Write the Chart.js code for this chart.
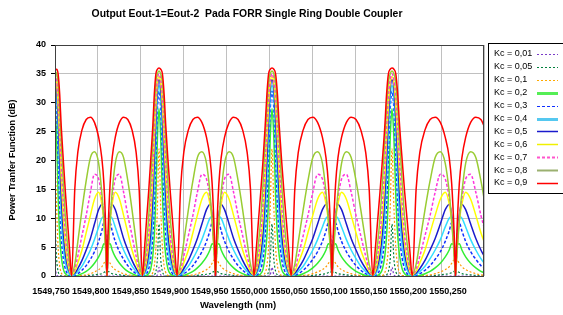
<!DOCTYPE html>
<html lang="en">
<head>
<meta charset="UTF-8">
<title>Output Eout-1=Eout-2 Pada FORR Single Ring Double Coupler</title>
<script src="https://cdn.jsdelivr.net/npm/chart.js"></script>
<style>
  body { margin: 0; background: #fff; }
  #wrap { width: 563px; height: 315px; }
</style>
</head>
<body>
<div id="wrap"><canvas id="chart" width="563" height="315"></canvas></div>
<script>
// wavelength (nm) of every sample
const wavelength = [
  1549.7550, 1549.7570, 1549.7589, 1549.7609, 1549.7628, 1549.7655, 1549.7681, 1549.7707, 1549.7734, 1549.7759, 1549.7799, 1549.7838, 1549.7890, 1549.7943, 1549.7996, 1549.8047, 1549.8100, 1549.8139, 1549.8166, 1549.8192, 1549.8205, 1549.8217, 1549.8244, 1549.8270, 1549.8309, 1549.8362, 1549.8414, 1549.8467, 1549.8520, 1549.8571, 1549.8610, 1549.8651, 1549.8676, 1549.8702, 1549.8729, 1549.8755, 1549.8782, 1549.8801, 1549.8821, 1549.8840,
  1549.8860, 1549.8881, 1549.8903, 1549.8924, 1549.8945, 1549.8973, 1549.9002, 1549.9031, 1549.9059, 1549.9088, 1549.9131, 1549.9173, 1549.9230, 1549.9287, 1549.9343, 1549.9400, 1549.9458, 1549.9501, 1549.9529, 1549.9557, 1549.9571, 1549.9585, 1549.9614, 1549.9643, 1549.9685, 1549.9743, 1549.9799, 1549.9856, 1549.9913, 1549.9969, 1550.0012, 1550.0055, 1550.0084, 1550.0112, 1550.0141, 1550.0170, 1550.0197, 1550.0219, 1550.0240, 1550.0261,
  1550.0283, 1550.0306, 1550.0328, 1550.0351, 1550.0374, 1550.0404, 1550.0434, 1550.0464, 1550.0494, 1550.0525, 1550.0570, 1550.0615, 1550.0676, 1550.0736, 1550.0797, 1550.0857, 1550.0918, 1550.0963, 1550.0993, 1550.1023, 1550.1039, 1550.1054, 1550.1084, 1550.1114, 1550.1159, 1550.1220, 1550.1280, 1550.1341, 1550.1401, 1550.1462, 1550.1507, 1550.1552, 1550.1583, 1550.1613, 1550.1643, 1550.1673, 1550.1704, 1550.1726, 1550.1749, 1550.1772,
  1550.1794, 1550.1818, 1550.1842, 1550.1866, 1550.1890, 1550.1923, 1550.1954, 1550.1986, 1550.2018, 1550.2050, 1550.2098, 1550.2146, 1550.2210, 1550.2274, 1550.2338, 1550.2403, 1550.2465, 1550.2515, 1550.2546, 1550.2578, 1550.2594, 1550.2610, 1550.2642, 1550.2675, 1550.2722, 1550.2785, 1550.2850, 1550.2914, 1550.2953
];

const xTicks = [1549.75, 1549.80, 1549.85, 1549.90, 1549.95, 1550.00, 1550.05, 1550.10, 1550.15, 1550.20, 1550.25];
const yTicks = [0, 5, 10, 15, 20, 25, 30, 35, 40];

const seriesLabels = ['Kc = 0,01', 'Kc = 0,05', 'Kc = 0,1', 'Kc = 0,2', 'Kc = 0,3', 'Kc = 0,4',
                      'Kc = 0,5', 'Kc = 0,6', 'Kc = 0,7', 'Kc = 0,8', 'Kc = 0,9'];

// power transfer (dB), one value per wavelength sample
const kc001 = [
  1.5,0.2,0,0,0,0,0,0,0,0,0,0,0,0,0,0,0,0,0,0,0,0,0,0,0,0,0,0,0,0,0,0,0,0,0,0,0,0,0,0.2,
  1.5,0.2,0,0,0,0,0,0,0,0,0,0,0,0,0,0,0,0,0,0,0,0,0,0,0,0,0,0,0,0,0,0,0,0,0,0,0,0,0,0.2,
  1.5,0.2,0,0,0,0,0,0,0,0,0,0,0,0,0,0,0,0,0,0,0,0,0,0,0,0,0,0,0,0,0,0,0,0,0,0,0,0,0,0.2,
  1.5,0.2,0,0,0,0,0,0,0,0,0,0,0,0,0,0,0,0,0,0,0,0,0,0,0,0,0,0,0
];
const kc005 = [
  9,3,0.8,0.2,0,0,0,0,0,0,0,0,0,0,0.1,0.2,0.3,0.4,0.6,0.8,0,0.8,0.6,0.4,0.3,0.2,0.1,0,0,0,0,0,0,0,0,0,0,0.2,0.8,3,
  9,3,0.8,0.2,0,0,0,0,0,0,0,0,0,0,0.1,0.2,0.3,0.4,0.6,0.8,0,0.8,0.6,0.4,0.3,0.2,0.1,0,0,0,0,0,0,0,0,0,0,0.2,0.8,3,
  9,3,0.8,0.2,0,0,0,0,0,0,0,0,0,0,0.1,0.2,0.3,0.4,0.6,0.8,0,0.8,0.6,0.4,0.3,0.2,0.1,0,0,0,0,0,0,0,0,0,0,0.2,0.8,3,
  9,3,0.8,0.2,0,0,0,0,0,0,0,0,0,0,0.1,0.2,0.3,0.4,0.6,0.8,0,0.8,0.6,0.4,0.3,0.2,0.1,0,0
];
const kc01 = [
  22,12,5,1.8,0.6,0.1,0,0,0,0,0,0,0.1,0.2,0.4,0.7,1.1,1.6,2.2,2.8,0,2.8,2.2,1.6,1.1,0.7,0.4,0.2,0.1,0,0,0,0,0,0,0.1,0.6,1.8,5,12,
  22,12,5,1.8,0.6,0.1,0,0,0,0,0,0,0.1,0.2,0.4,0.7,1.1,1.6,2.2,2.8,0,2.8,2.2,1.6,1.1,0.7,0.4,0.2,0.1,0,0,0,0,0,0,0.1,0.6,1.8,5,12,
  22,12,5,1.8,0.6,0.1,0,0,0,0,0,0,0.1,0.2,0.4,0.7,1.1,1.6,2.2,2.8,0,2.8,2.2,1.6,1.1,0.7,0.4,0.2,0.1,0,0,0,0,0,0,0.1,0.6,1.8,5,12,
  22,12,5,1.8,0.6,0.1,0,0,0,0,0,0,0.1,0.2,0.4,0.7,1.1,1.6,2.2,2.8,0,2.8,2.2,1.6,1.1,0.7,0.4,0.2,0.15
];
const kc02 = [
  29,24,14,7,3.5,1.2,0.4,0.1,0,0,0,0.1,0.4,0.8,1.4,2.2,3.3,4.5,5.6,5.5,0,5.5,5.6,4.5,3.3,2.2,1.4,0.8,0.4,0.1,0,0,0,0.1,0.4,1.2,3.5,7,14,24,
  29,24,14,7,3.5,1.2,0.4,0.1,0,0,0,0.1,0.4,0.8,1.4,2.2,3.3,4.5,5.6,5.5,0,5.5,5.6,4.5,3.3,2.2,1.4,0.8,0.4,0.1,0,0,0,0.1,0.4,1.2,3.5,7,14,24,
  29,24,14,7,3.5,1.2,0.4,0.1,0,0,0,0.1,0.4,0.8,1.4,2.2,3.3,4.5,5.6,5.5,0,5.5,5.6,4.5,3.3,2.2,1.4,0.8,0.4,0.1,0,0,0,0.1,0.4,1.2,3.5,7,14,24,
  29,24,14,7,3.5,1.2,0.4,0.1,0,0,0,0.1,0.4,0.8,1.4,2.2,3.3,4.5,5.6,5.5,0,5.5,5.6,4.5,3.3,2.2,1.4,0.8,0.6
];
const kc03 = [
  32,29,21,12.5,7,3,1.2,0.4,0.1,0,0.1,0.4,1,1.8,2.9,4.2,6,7.8,9.2,6,0,6,9.2,7.8,6,4.2,2.9,1.8,1,0.4,0.1,0,0.1,0.4,1.2,3,7,12.5,21,29,
  32,29,21,12.5,7,3,1.2,0.4,0.1,0,0.1,0.4,1,1.8,2.9,4.2,6,7.8,9.2,6,0,6,9.2,7.8,6,4.2,2.9,1.8,1,0.4,0.1,0,0.1,0.4,1.2,3,7,12.5,21,29,
  32,29,21,12.5,7,3,1.2,0.4,0.1,0,0.1,0.4,1,1.8,2.9,4.2,6,7.8,9.2,6,0,6,9.2,7.8,6,4.2,2.9,1.8,1,0.4,0.1,0,0.1,0.4,1.2,3,7,12.5,21,29,
  32,29,21,12.5,7,3,1.2,0.4,0.1,0,0.1,0.4,1,1.8,2.9,4.2,6,7.8,9.2,6,0,6,9.2,7.8,6,4.2,2.9,1.8,1.4
];
const kc04 = [
  33,31,25,17,10.5,5,2.3,1,0.3,0,0.3,0.8,1.7,3,4.5,6.3,8.5,10,10.3,5,0,5,10.3,10,8.5,6.3,4.5,3,1.7,0.8,0.3,0,0.3,1,2.3,5,10.5,17,25,31,
  33,31,25,17,10.5,5,2.3,1,0.3,0,0.3,0.8,1.7,3,4.5,6.3,8.5,10,10.3,5,0,5,10.3,10,8.5,6.3,4.5,3,1.7,0.8,0.3,0,0.3,1,2.3,5,10.5,17,25,31,
  33,31,25,17,10.5,5,2.3,1,0.3,0,0.3,0.8,1.7,3,4.5,6.3,8.5,10,10.3,5,0,5,10.3,10,8.5,6.3,4.5,3,1.7,0.8,0.3,0,0.3,1,2.3,5,10.5,17,25,31,
  33,31,25,17,10.5,5,2.3,1,0.3,0,0.3,0.8,1.7,3,4.5,6.3,8.5,10,10.3,5,0,5,10.3,10,8.5,6.3,4.5,3,2.3
];
const kc05 = [
  34,32.5,27.5,20.5,14,7.5,3.8,1.7,0.6,0.2,0.5,1.3,2.7,4.5,6.5,9,11.5,12.4,10.5,4.5,0,4.5,10.5,12.4,11.5,9,6.5,4.5,2.7,1.3,0.5,0.2,0.6,1.7,3.8,7.5,14,20.5,27.5,32.5,
  34,32.5,27.5,20.5,14,7.5,3.8,1.7,0.6,0.2,0.5,1.3,2.7,4.5,6.5,9,11.5,12.4,10.5,4.5,0,4.5,10.5,12.4,11.5,9,6.5,4.5,2.7,1.3,0.5,0.2,0.6,1.7,3.8,7.5,14,20.5,27.5,32.5,
  34,32.5,27.5,20.5,14,7.5,3.8,1.7,0.6,0.2,0.5,1.3,2.7,4.5,6.5,9,11.5,12.4,10.5,4.5,0,4.5,10.5,12.4,11.5,9,6.5,4.5,2.7,1.3,0.5,0.2,0.6,1.7,3.8,7.5,14,20.5,27.5,32.5,
  34,32.5,27.5,20.5,14,7.5,3.8,1.7,0.6,0.2,0.5,1.3,2.7,4.5,6.5,9,11.5,12.4,10.5,4.5,0,4.5,10.5,12.4,11.5,9,6.5,4.5,3.5
];
const kc06 = [
  34.5,33.5,29.5,23.5,17,10,5.5,2.5,0.8,0.2,0.8,2.3,4.5,7.5,10.5,13.3,14.5,12.5,9.5,4,0,4,9.5,12.5,14.5,13.3,10.5,7.5,4.5,2.3,0.8,0.2,0.8,2.5,5.5,10,17,23.5,29.5,33.5,
  34.5,33.5,29.5,23.5,17,10,5.5,2.5,0.8,0.2,0.8,2.3,4.5,7.5,10.5,13.3,14.5,12.5,9.5,4,0,4,9.5,12.5,14.5,13.3,10.5,7.5,4.5,2.3,0.8,0.2,0.8,2.5,5.5,10,17,23.5,29.5,33.5,
  34.5,33.5,29.5,23.5,17,10,5.5,2.5,0.8,0.2,0.8,2.3,4.5,7.5,10.5,13.3,14.5,12.5,9.5,4,0,4,9.5,12.5,14.5,13.3,10.5,7.5,4.5,2.3,0.8,0.2,0.8,2.5,5.5,10,17,23.5,29.5,33.5,
  34.5,33.5,29.5,23.5,17,10,5.5,2.5,0.8,0.2,0.8,2.3,4.5,7.5,10.5,13.3,14.5,12.5,9.5,4,0,4,9.5,12.5,14.5,13.3,10.5,7.5,6
];
const kc07 = [
  35,34,31,25.5,19.5,12.5,7,3.5,1.2,0.3,1.2,3.5,7,10.5,14.5,17.6,16.8,13.5,10,4,0,4,10,13.5,16.8,17.6,14.5,10.5,7,3.5,1.2,0.3,1.2,3.5,7,12.5,19.5,25.5,31,34,
  35,34,31,25.5,19.5,12.5,7,3.5,1.2,0.3,1.2,3.5,7,10.5,14.5,17.6,16.8,13.5,10,4,0,4,10,13.5,16.8,17.6,14.5,10.5,7,3.5,1.2,0.3,1.2,3.5,7,12.5,19.5,25.5,31,34,
  35,34,31,25.5,19.5,12.5,7,3.5,1.2,0.3,1.2,3.5,7,10.5,14.5,17.6,16.8,13.5,10,4,0,4,10,13.5,16.8,17.6,14.5,10.5,7,3.5,1.2,0.3,1.2,3.5,7,12.5,19.5,25.5,31,34,
  35,34,31,25.5,19.5,12.5,7,3.5,1.2,0.3,1.2,3.5,7,10.5,14.5,17.6,16.8,13.5,10,4,0,4,10,13.5,16.8,17.6,14.5,10.5,8.5
];
const kc08 = [
  35.5,35,33.5,29,23.5,16,10,5.5,2,0.3,2,6,11.5,16.5,20.5,21.5,19.5,14.5,9.5,3.5,0,3.5,9.5,14.5,19.5,21.5,20.5,16.5,11.5,6,2,0.3,2,5.5,10,16,23.5,29,33.5,35,
  35.5,35,33.5,29,23.5,16,10,5.5,2,0.3,2,6,11.5,16.5,20.5,21.5,19.5,14.5,9.5,3.5,0,3.5,9.5,14.5,19.5,21.5,20.5,16.5,11.5,6,2,0.3,2,5.5,10,16,23.5,29,33.5,35,
  35.5,35,33.5,29,23.5,16,10,5.5,2,0.3,2,6,11.5,16.5,20.5,21.5,19.5,14.5,9.5,3.5,0,3.5,9.5,14.5,19.5,21.5,20.5,16.5,11.5,6,2,0.3,2,5.5,10,16,23.5,29,33.5,35,
  35.5,35,33.5,29,23.5,16,10,5.5,2,0.3,2,6,11.5,16.5,20.5,21.5,19.5,14.5,9.5,3.5,0,3.5,9.5,14.5,19.5,21.5,20.5,16.5,13.5
];
const kc09 = [
  35.5,35.8,35,31.5,26,20,14.5,9.5,4.5,0,15,21.5,25.3,27.1,27.5,26.6,24,20.5,16,7,0,7,16,20.5,24,26.6,27.5,27.1,25.3,21.5,15,0,4.5,9.5,14.5,20,26,31.5,35,35.8,
  36,35.8,35,31.5,26,20,14.5,9.5,4.5,0,15,21.5,25.3,27.1,27.5,26.6,24,20.5,16,7,0,7,16,20.5,24,26.6,27.5,27.1,25.3,21.5,15,0,4.5,9.5,14.5,20,26,31.5,35,35.8,
  36,35.8,35,31.5,26,20,14.5,9.5,4.5,0,15,21.5,25.3,27.1,27.5,26.6,24,20.5,16,7,0,7,16,20.5,24,26.6,27.5,27.1,25.3,21.5,15,0,4.5,9.5,14.5,20,26,31.5,35,35.8,
  36,35.8,35,31.5,26,20,14.5,9.5,4.5,0,15,21.5,25.3,27.1,27.5,26.6,24,20.5,16,7,0,7,16,20.5,24,26.6,27.5,27.1,26
];

const seriesValues = [kc001, kc005, kc01, kc02, kc03, kc04, kc05, kc06, kc07, kc08, kc09];

const lineStyles = [
  { color: '#7a3cc8', dash: [2, 2], width: 1.2, legendColor: '#7a3cc8', legendWidth: 1.2 },
  { color: '#00803c', dash: [2, 2], width: 1.2, legendColor: '#00803c', legendWidth: 1.2 },
  { color: '#ff9900', dash: [2, 2], width: 1.2, legendColor: '#ffaa00', legendWidth: 1.2 },
  { color: '#33ee33', dash: [],     width: 1.5, legendColor: '#55ee55', legendWidth: 3 },
  { color: '#1030ff', dash: [3, 2], width: 1.5, legendColor: '#1030ff', legendWidth: 1.2 },
  { color: '#33ddff', dash: [],     width: 1.5, legendColor: '#55c8f0', legendWidth: 3 },
  { color: '#1a1acc', dash: [],     width: 1.5, legendColor: '#1a1acc', legendWidth: 1.5 },
  { color: '#ffff00', dash: [],     width: 1.5, legendColor: '#f0f000', legendWidth: 1.5 },
  { color: '#ff33dd', dash: [3, 2], width: 1.5, legendColor: '#ff55cc', legendWidth: 2 },
  { color: '#99cc33', dash: [],     width: 1.5, legendColor: '#9bb070', legendWidth: 2 },
  { color: '#ff0000', dash: [],     width: 1.5, legendColor: '#ff0000', legendWidth: 1.5 }
];

const titleText = 'Output Eout-1=Eout-2  Pada FORR Single Ring Double Coupler';
const xTitleText = 'Wavelength (nm)';
const yTitleText = 'Power Tranfer Function (dB)';
const FONT = '"Liberation Sans", Arial, sans-serif';

const datasets = seriesValues.map((vals, i) => ({
  label: seriesLabels[i],
  data: wavelength.map((w, k) => ({ x: w, y: vals[k] })),
  borderColor: lineStyles[i].color,
  borderDash: lineStyles[i].dash,
  borderWidth: lineStyles[i].width,
  pointRadius: 0,
  fill: false,
  cubicInterpolationMode: 'monotone',
  order: seriesValues.length - 1 - i
}));

const decor = {
  id: 'decor',
  afterDraw(chart) {
    const c = chart.ctx, a = chart.chartArea;
    c.save();
    c.strokeStyle = '#404040';
    c.lineWidth = 1;
    c.strokeRect(a.left + 0.5, a.top + 0.5, a.right - a.left - 1, a.bottom - a.top);
    c.fillStyle = '#000';
    c.textAlign = 'center';
    c.textBaseline = 'middle';
    c.font = 'bold 10.4px ' + FONT;
    c.fillText(titleText, 247, 14);
    c.font = 'bold 9.5px ' + FONT;
    c.fillText(xTitleText, 238, 305);
    c.save();
    c.translate(13, 160);
    c.rotate(-Math.PI / 2);
    c.font = 'bold 9px ' + FONT;
    c.fillText(yTitleText, 0, 0);
    c.restore();

    // legend box
    const lx = 488, ly = 43, lh = 150;
    c.fillStyle = '#fff';
    c.fillRect(lx, ly, 80, lh);
    c.strokeStyle = '#000';
    c.strokeRect(lx + 0.5, ly + 0.5, 80, lh);
    c.textAlign = 'left';
    c.font = '9px ' + FONT;
    seriesLabels.forEach((lab, i) => {
      const y = 54 + i * 12.9;
      c.fillStyle = '#000';
      c.fillText(lab, 494, y);
      const st = lineStyles[i];
      c.strokeStyle = st.legendColor;
      c.lineWidth = st.legendWidth;
      c.setLineDash(st.dash);
      c.beginPath();
      c.moveTo(537, Math.round(y) + 0.5);
      c.lineTo(558, Math.round(y) + 0.5);
      c.stroke();
      c.setLineDash([]);
    });
    c.restore();
  }
};

new Chart(document.getElementById('chart'), {
  type: 'line',
  data: { datasets },
  options: {
    responsive: false,
    animation: false,
    layout: { padding: { left: 0, right: 79, top: 45, bottom: 0 } },
    plugins: { legend: { display: false }, tooltip: { enabled: false }, title: { display: false } },
    scales: {
      x: {
        type: 'linear',
        position: 'bottom',
        min: 1549.755,
        max: 1550.2953,
        afterBuildTicks: s => { s.ticks = xTicks.map(v => ({ value: v })); },
        afterFit: s => { s.height = 39; },
        grid: { display: false, drawTicks: false },
        border: { display: false },
        ticks: {
          autoSkip: false, maxRotation: 0, minRotation: 0, padding: 10,
          color: '#000', font: { family: FONT, size: 9, weight: 'bold' },
          callback: v => Number(v).toFixed(3).replace('.', ',')
        }
      },
      xg: {
        type: 'linear',
        position: 'bottom',
        min: 0, max: 10,
        afterFit: s => { s.height = 0; },
        grid: { color: '#c0c0c0', drawTicks: false },
        border: { display: false },
        ticks: { display: false, stepSize: 1 }
      },
      y: {
        min: 0, max: 40,
        afterBuildTicks: s => { s.ticks = yTicks.map(v => ({ value: v })); },
        afterFit: s => { s.width = 55; },
        grid: { color: '#c0c0c0', tickColor: '#000', tickLength: 4 },
        border: { color: '#000' },
        ticks: { padding: 5, color: '#000', font: { family: FONT, size: 9, weight: 'bold' } }
      }
    }
  },
  plugins: [decor]
});
</script>
</body>
</html>
